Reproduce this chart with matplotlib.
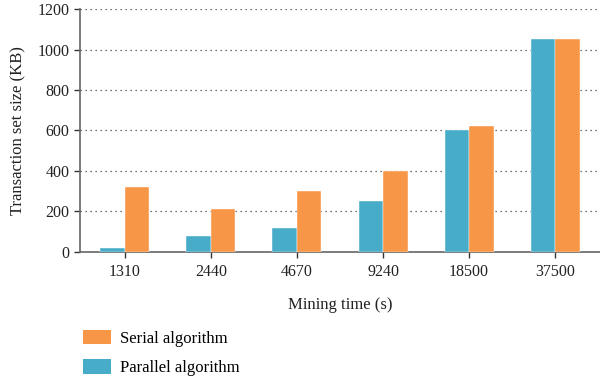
import numpy as np
import matplotlib.pyplot as plt
from matplotlib.patches import Patch

plt.rcParams['font.family'] = ['Liberation Serif', 'DejaVu Serif']

# data
mining_time = ['1310', '2440', '4670', '9240', '18500', '37500']
parallel = [20, 77, 120, 250, 600, 1050]
serial = [322, 210, 300, 400, 620, 1050]

blue = '#46acc8'
orange = '#f79646'

fig = plt.figure(figsize=(6, 3.77), dpi=100)
ax = fig.add_axes([0.1333, 0.3316, 0.8667, 0.6445])

x = np.arange(len(mining_time))
w = 0.285
ax.bar(x - w / 2, parallel, w, color=blue, edgecolor='white', linewidth=0.3, zorder=3)
ax.bar(x + w / 2, serial, w, color=orange, edgecolor='white', linewidth=0.3, zorder=3)

ax.set_xlim(-0.52, 5.52)
ax.set_ylim(0, 1200)
ax.set_yticks(range(0, 1201, 200))
ax.set_xticks(x)
ax.set_xticklabels(mining_time)
ax.yaxis.grid(True, linestyle=(0, (1, 3)), color='#444444', linewidth=0.9, zorder=0)

for s in ['top', 'right']:
    ax.spines[s].set_visible(False)
for s in ['left', 'bottom']:
    ax.spines[s].set_color('#666666')
    ax.spines[s].set_linewidth(1.2)
ax.tick_params(axis='both', colors='#333333', labelsize=11.5, length=4, width=1, labelcolor='#222222')
ax.tick_params(axis='x', pad=5)

ax.set_ylabel('Transaction set size (KB)', fontsize=12, color='#222222', labelpad=8)
ax.set_xlabel('Mining time (s)', fontsize=12, color='#222222', labelpad=12)

handles = [Patch(facecolor=orange, label='Serial algorithm'),
           Patch(facecolor=blue, label='Parallel algorithm')]
fig.legend(handles=handles, loc='upper left', bbox_to_anchor=(83 / 600, 1 - 330 / 377),
           frameon=False, fontsize=12, handlelength=1.7, handleheight=0.95,
           handletextpad=0.55, labelspacing=0.75, borderpad=0, borderaxespad=0,
           bbox_transform=fig.transFigure)

fig.savefig('out.png', dpi=100)
